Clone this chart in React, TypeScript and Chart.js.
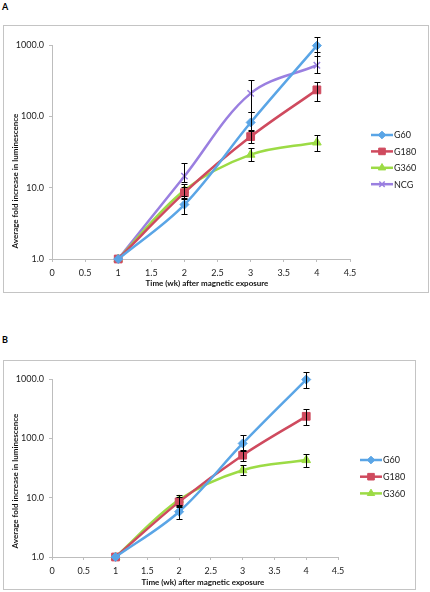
import React, { useEffect, useRef } from "react";
import { Chart, registerables } from "chart.js";
import { drawPoint } from "chart.js/helpers";

Chart.register(...registerables);

// ---- data ----
const weeks = [1, 2, 3, 4];

const g60 = [1, 5.8, 82, 980];
const g60Lo = [null, 4.3, 64, 705];
const g60Hi = [null, 7.2, 116, 1290];

const g180 = [1, 8.5, 52, 235];
const g180Lo = [null, 7.0, 42, 166];
const g180Hi = [null, 10.2, 62, 307];

const g360 = [1, 9.2, 29, 43];
const g360Lo = [null, 7.6, 24, 33];
const g360Hi = [null, 11.3, 36, 54];

const ncg = [1, 14.5, 210, 520];
const ncgLo = [null, 12, 116, 406];
const ncgHi = [null, 22.5, 324, 810];

const yTickValues = [1, 10, 100, 1000];
const xMin = 0;
const xMax = 4.5;
const xStep = 0.5;

const xTitle = "Time (wk) after magnetic exposure";
const yTitle = "Average fold increase in luminescence";

const FONT = "Lato, 'Open Sans', 'Liberation Sans', sans-serif";
const AXIS_GREY = "#BDBDBD";

type Series = {
  label: string;
  values: number[];
  lo: (number | null)[];
  hi: (number | null)[];
  color: string;
  pointStyle: string;
  radius: number;
};

const seriesG60: Series = { label: "G60", values: g60, lo: g60Lo, hi: g60Hi, color: "#5AA5E6", pointStyle: "rectRot", radius: 4.5 };
const seriesG180: Series = { label: "G180", values: g180, lo: g180Lo, hi: g180Hi, color: "#CF4A5E", pointStyle: "rect", radius: 5.5 };
const seriesG360: Series = { label: "G360", values: g360, lo: g360Lo, hi: g360Hi, color: "#9CDB45", pointStyle: "triangle", radius: 5 };
const seriesNCG: Series = { label: "NCG", values: ncg, lo: ncgLo, hi: ncgHi, color: "#9A7FE0", pointStyle: "crossRot", radius: 4.5 };

type Cfg = {
  series: Series[];
  width: number;
  height: number;
  padTop: number;
  padRight: number;
  yWidth: number;
  xHeight: number;
  legendX: number;
  legendY: number;
  legendGap: number;
  xTitlePos: [number, number];
  yTitlePos: [number, number];
};

function makePlugins(cfg: Cfg) {
  const errorBars = {
    id: "errorBars",
    afterDatasetsDraw(chart: any) {
      const ctx = chart.ctx;
      const xs = chart.scales.x;
      const ys = chart.scales.y;
      ctx.save();
      ctx.strokeStyle = "#000";
      ctx.lineWidth = 1;
      cfg.series.forEach((s) => {
        weeks.forEach((w, i) => {
          const lo = s.lo[i];
          const hi = s.hi[i];
          if (lo == null || hi == null) return;
          const px = Math.round(xs.getPixelForValue(w)) + 0.5;
          const pl = Math.round(ys.getPixelForValue(lo)) + 0.5;
          const ph = Math.round(ys.getPixelForValue(hi)) + 0.5;
          ctx.beginPath();
          ctx.moveTo(px, pl);
          ctx.lineTo(px, ph);
          ctx.moveTo(px - 3, pl);
          ctx.lineTo(px + 3, pl);
          ctx.moveTo(px - 3, ph);
          ctx.lineTo(px + 3, ph);
          ctx.stroke();
        });
      });
      ctx.restore();
    },
  };
  const legendAndTitles = {
    id: "legendAndTitles",
    afterDraw(chart: any) {
      const ctx = chart.ctx;
      ctx.save();
      // legend
      cfg.series.forEach((s, i) => {
        const y = cfg.legendY + i * cfg.legendGap;
        ctx.strokeStyle = s.color;
        ctx.lineWidth = 2.5;
        ctx.beginPath();
        ctx.moveTo(cfg.legendX, y);
        ctx.lineTo(cfg.legendX + 22, y);
        ctx.stroke();
        ctx.fillStyle = s.color;
        ctx.strokeStyle = s.color;
        ctx.lineWidth = s.pointStyle === "crossRot" ? 1.5 : 1;
        drawPoint(ctx, { pointStyle: s.pointStyle as any, rotation: 0, borderWidth: 1, radius: s.radius * 0.85 }, cfg.legendX + 11, y);
        ctx.fillStyle = "#222";
        ctx.font = `9px ${FONT}`;
        ctx.textAlign = "left";
        ctx.textBaseline = "middle";
        ctx.fillText(s.label, cfg.legendX + 23, y + 0.5);
      });
      // titles
      ctx.fillStyle = "#111";
      ctx.font = `bold 8px ${FONT}`;
      ctx.textAlign = "center";
      ctx.textBaseline = "middle";
      ctx.fillText(xTitle, cfg.xTitlePos[0], cfg.xTitlePos[1]);
      ctx.translate(cfg.yTitlePos[0], cfg.yTitlePos[1]);
      ctx.rotate(-Math.PI / 2);
      ctx.fillText(yTitle, 0, 0);
      ctx.restore();
    },
  };
  return [errorBars, legendAndTitles];
}

function LumChart({ cfg }: { cfg: Cfg }) {
  const ref = useRef<HTMLCanvasElement | null>(null);
  useEffect(() => {
    if (!ref.current) return;
    const datasets = cfg.series.map((s) => ({
      label: s.label,
      data: weeks.map((w, i) => ({ x: w, y: s.values[i] })),
      borderColor: s.color,
      backgroundColor: s.color,
      pointBackgroundColor: s.color,
      pointBorderColor: s.color,
      pointBorderWidth: s.pointStyle === "crossRot" ? 1.5 : 1,
      pointStyle: s.pointStyle,
      pointRadius: s.radius,
      borderWidth: 2.5,
      tension: 0.35,
      clip: false as any,
      fill: false,
    }));
    const chart = new Chart(ref.current, {
      type: "line",
      data: { datasets },
      options: {
        animation: false,
        responsive: false,
        maintainAspectRatio: false,
        layout: { padding: { top: cfg.padTop, right: cfg.padRight, bottom: 0, left: 0 } },
        plugins: { legend: { display: false }, tooltip: { enabled: false }, title: { display: false } },
        scales: {
          x: {
            type: "linear",
            min: xMin,
            max: xMax,
            ticks: {
              stepSize: xStep,
              font: { family: FONT, size: 9 },
              color: "#222",
              padding: 6,
              maxRotation: 0,
              callback: (v: any) => String(Number(v)),
            },
            grid: { display: true, drawOnChartArea: false, drawTicks: true, tickLength: 3, color: AXIS_GREY },
            border: { display: true, color: AXIS_GREY, width: 1 },
            afterFit: (scale: any) => {
              scale.height = cfg.xHeight;
            },
          },
          y: {
            type: "logarithmic",
            min: 1,
            max: 1000,
            afterBuildTicks: (scale: any) => {
              scale.ticks = yTickValues.map((v) => ({ value: v }));
            },
            ticks: {
              font: { family: FONT, size: 9 },
              color: "#222",
              padding: 5,
              callback: (v: any) => Number(v).toFixed(1),
            },
            grid: { display: true, drawOnChartArea: false, drawTicks: true, tickLength: 3, color: AXIS_GREY },
            border: { display: true, color: AXIS_GREY, width: 1 },
            afterFit: (scale: any) => {
              scale.width = cfg.yWidth;
            },
          },
        },
      } as any,
      plugins: makePlugins(cfg) as any,
    });
    return () => chart.destroy();
  }, [cfg]);
  return <canvas ref={ref} width={cfg.width} height={cfg.height} style={{ display: "block", width: cfg.width, height: cfg.height }} />;
}

const cfgA: Cfg = {
  series: [seriesG60, seriesG180, seriesG360, seriesNCG],
  width: 426,
  height: 268,
  padTop: 20,
  padRight: 79,
  yWidth: 49,
  xHeight: 34,
  legendX: 368,
  legendY: 110,
  legendGap: 16.4,
  xTitlePos: [204, 258],
  yTitlePos: [12, 156],
};

const cfgB: Cfg = {
  series: [seriesG60, seriesG180, seriesG360],
  width: 413,
  height: 230,
  padTop: 19,
  padRight: 78,
  yWidth: 49,
  xHeight: 33,
  legendX: 357,
  legendY: 100,
  legendGap: 16.7,
  xTitlePos: [200, 222],
  yTitlePos: [12, 121],
};

export default function App() {
  const frame = (left: number, top: number, w: number, h: number): React.CSSProperties => ({
    position: "absolute",
    left,
    top,
    width: w,
    height: h,
    boxSizing: "border-box",
    border: "1px solid #C4C4C4",
    pointerEvents: "none",
  });
  const label: React.CSSProperties = {
    position: "absolute",
    fontFamily: FONT,
    fontWeight: "bold",
    fontSize: 9,
    lineHeight: "10px",
    color: "#000",
  };
  return (
    <div style={{ position: "absolute", left: 0, top: 0, width: 430, height: 592, background: "#fff", overflow: "hidden" }}>
      <div style={{ ...label, left: 2, top: 2 }}>A</div>
      <div style={{ position: "absolute", left: 3, top: 25 }}>
        <LumChart cfg={cfgA} />
      </div>
      <div style={frame(3, 25, 426, 268)} />
      <div style={{ ...label, left: 2, top: 335 }}>B</div>
      <div style={{ position: "absolute", left: 3, top: 360 }}>
        <LumChart cfg={cfgB} />
      </div>
      <div style={frame(3, 360, 413, 230)} />
    </div>
  );
}
